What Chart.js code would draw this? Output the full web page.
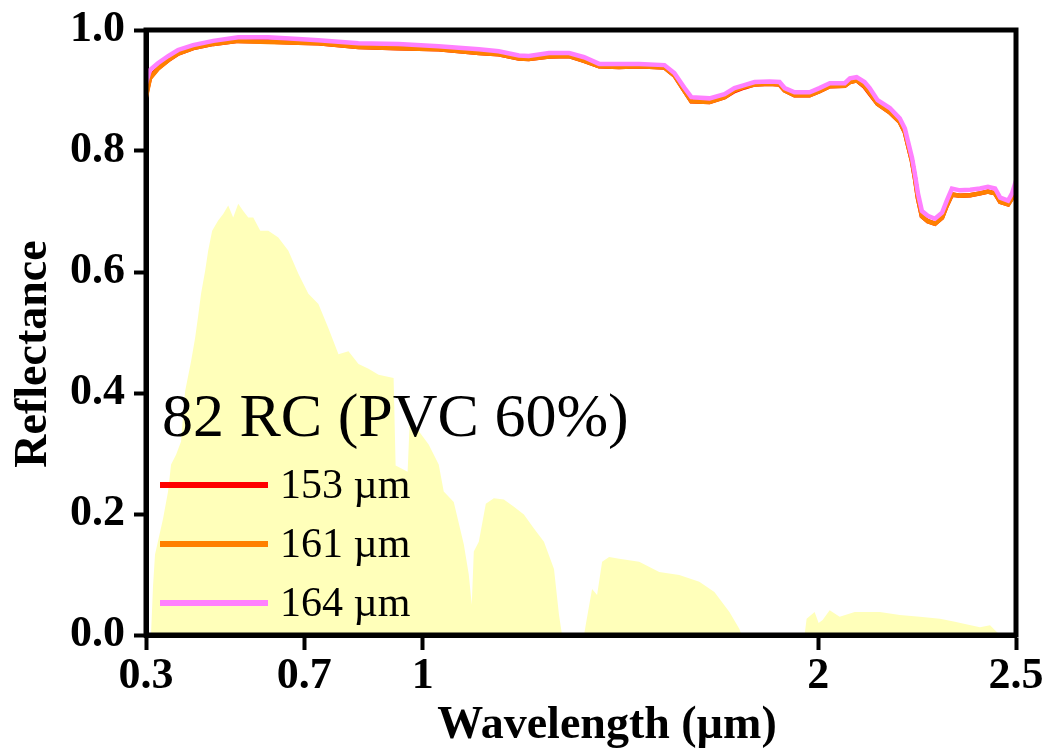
<!DOCTYPE html>
<html>
<head>
<meta charset="utf-8">
<script src="https://cdn.jsdelivr.net/npm/chart.js@4/dist/chart.umd.min.js"></script>
<style>
  html, body { margin: 0; padding: 0; background: #fff; }
  #wrap { width: 1046px; height: 756px; position: relative; }
</style>
</head>
<body>
<div id="wrap"><canvas id="chart"></canvas></div>
<script>
// ── Data ─────────────────────────────────────────────────────────────────────

const panelTitle  = '82 RC (PVC 60%)';
const xTitle      = 'Wavelength (µm)';
const yTitle      = 'Reflectance';
const xTicks      = [0.3, 0.7, 1, 2, 2.5];
const xTickLabels = ['0.3', '0.7', '1', '2', '2.5'];

// wavelength (µm) for the reflectance curves
const wl = [
  0.300, 0.310, 0.330, 0.356, 0.381, 0.419, 0.470, 0.533, 0.609, 0.685,
  0.736, 0.837, 0.939, 1.040, 1.142, 1.192, 1.243, 1.268, 1.319, 1.370,
  1.408, 1.446, 1.496, 1.547, 1.611, 1.636, 1.661, 1.679, 1.725, 1.763,
  1.788, 1.813, 1.839, 1.877, 1.902, 1.915, 1.940, 1.978, 2.003, 2.029,
  2.067, 2.080, 2.097, 2.117, 2.130, 2.150, 2.181, 2.206, 2.219, 2.226,
  2.237, 2.244, 2.252, 2.262, 2.277, 2.295, 2.313, 2.325, 2.338, 2.358,
  2.384, 2.409, 2.429, 2.447, 2.460, 2.480, 2.490, 2.500
];

const r153 = [
  0.892, 0.921, 0.937, 0.950, 0.961, 0.970, 0.977, 0.982, 0.981, 0.979,
  0.978, 0.972, 0.970, 0.968, 0.962, 0.960, 0.953, 0.952, 0.956, 0.957,
  0.949, 0.940, 0.939, 0.940, 0.938, 0.925, 0.900, 0.882, 0.881, 0.889,
  0.899, 0.905, 0.910, 0.911, 0.910, 0.900, 0.892, 0.892, 0.899, 0.907,
  0.908, 0.914, 0.917, 0.906, 0.895, 0.878, 0.864, 0.848, 0.831, 0.812,
  0.783, 0.757, 0.722, 0.692, 0.684, 0.680, 0.690, 0.710, 0.728, 0.726,
  0.727, 0.730, 0.733, 0.730, 0.716, 0.712, 0.722, 0.740
];

const r161 = [
  0.889, 0.920, 0.936, 0.950, 0.961, 0.970, 0.977, 0.982, 0.980, 0.979,
  0.978, 0.972, 0.970, 0.968, 0.962, 0.960, 0.953, 0.952, 0.956, 0.957,
  0.949, 0.940, 0.939, 0.940, 0.938, 0.925, 0.900, 0.882, 0.881, 0.889,
  0.900, 0.906, 0.910, 0.911, 0.910, 0.900, 0.892, 0.892, 0.899, 0.907,
  0.908, 0.914, 0.917, 0.907, 0.896, 0.878, 0.864, 0.848, 0.831, 0.812,
  0.783, 0.757, 0.722, 0.692, 0.684, 0.680, 0.690, 0.710, 0.728, 0.726,
  0.727, 0.730, 0.733, 0.730, 0.716, 0.712, 0.722, 0.740
];

const r164 = [
  0.912, 0.934, 0.945, 0.957, 0.967, 0.975, 0.982, 0.988, 0.988, 0.985,
  0.983, 0.978, 0.977, 0.973, 0.968, 0.965, 0.958, 0.957, 0.962, 0.962,
  0.955, 0.944, 0.944, 0.944, 0.942, 0.929, 0.905, 0.889, 0.887, 0.894,
  0.904, 0.909, 0.914, 0.915, 0.914, 0.904, 0.897, 0.897, 0.904, 0.912,
  0.912, 0.920, 0.922, 0.914, 0.904, 0.884, 0.871, 0.854, 0.837, 0.818,
  0.789, 0.763, 0.730, 0.701, 0.693, 0.688, 0.698, 0.718, 0.738, 0.735,
  0.736, 0.738, 0.741, 0.738, 0.723, 0.718, 0.730, 0.751
];

// solar spectrum backdrop (scaled), wavelength + height
const solarWl = [
  0.3127, 0.3177, 0.3228, 0.3431, 0.3558, 0.3634, 0.3760, 0.3887, 0.3989, 0.4141,
  0.4242, 0.4318, 0.4394, 0.4496, 0.4572, 0.4673, 0.4825, 0.4952, 0.5079, 0.5205,
  0.5332, 0.5459, 0.5586, 0.5712, 0.5890, 0.6093, 0.6346, 0.6600, 0.6853, 0.7106,
  0.7360, 0.7613, 0.7867, 0.8120, 0.8374, 0.8627, 0.8881, 0.9261, 0.9312, 0.9616,
  0.9667, 0.9895, 1.0148, 1.0402, 1.0529, 1.0782, 1.1036, 1.1162, 1.1238, 1.1289,
  1.1416, 1.1593, 1.1796, 1.2049, 1.2303, 1.2556, 1.2810, 1.3063, 1.3317, 1.3444,
  1.3520, 1.4077, 1.4128, 1.4280, 1.4407, 1.4534, 1.4711, 1.4965, 1.5471, 1.5978,
  1.6485, 1.6992, 1.7373, 1.7753, 1.8006, 1.8057, 1.9654, 1.9705, 1.9908, 2.0009,
  2.0110, 2.0288, 2.0541, 2.0922, 2.1555, 2.2062, 2.2569, 2.3076, 2.3456, 2.3710,
  2.4090, 2.4343, 2.4470, 2.4597
];
const solar = [
  0.000, 0.080, 0.133, 0.192, 0.237, 0.282, 0.298, 0.320, 0.403, 0.453,
  0.491, 0.527, 0.565, 0.602, 0.635, 0.668, 0.685, 0.696, 0.710, 0.690,
  0.713, 0.701, 0.690, 0.690, 0.668, 0.668, 0.657, 0.635, 0.597, 0.564,
  0.547, 0.507, 0.464, 0.469, 0.448, 0.440, 0.430, 0.425, 0.280, 0.270,
  0.350, 0.337, 0.315, 0.282, 0.237, 0.220, 0.150, 0.100, 0.050, 0.138,
  0.154, 0.217, 0.226, 0.224, 0.212, 0.199, 0.176, 0.154, 0.109, 0.033,
  0.000, 0.000, 0.020, 0.076, 0.066, 0.121, 0.129, 0.126, 0.121, 0.104,
  0.099, 0.088, 0.071, 0.038, 0.010, 0.000, 0.000, 0.027, 0.038, 0.020,
  0.025, 0.041, 0.030, 0.038, 0.038, 0.033, 0.030, 0.027, 0.022, 0.018,
  0.013, 0.016, 0.008, 0.000
];

// ── Styling ──────────────────────────────────────────────────────────────────

const SERIF = "'Times New Roman', 'Liberation Serif', serif";
const pts = (xs, ys) => xs.map((x, i) => ({ x, y: ys[i] }));

const lineDs = (label, data, color, order) => ({
  label, data: pts(wl, data),
  borderColor: color, backgroundColor: color,
  borderWidth: 4.5, pointRadius: 0, tension: 0, fill: false, order,
});

// frame, axis titles and in-plot legend
const decor = {
  id: 'decor',
  afterDatasetsDraw(chart) {
    const { ctx, chartArea: a } = chart;
    ctx.save();
    ctx.strokeStyle = '#000';
    ctx.lineWidth = 5;
    ctx.strokeRect(a.left, a.top, a.right - a.left, a.bottom - a.top);

    ctx.fillStyle = '#000';
    ctx.textAlign = 'center';
    ctx.textBaseline = 'middle';
    ctx.font = `bold 46px ${SERIF}`;
    ctx.fillText(xTitle, 607, 726);
    ctx.save();
    ctx.translate(34, 354);
    ctx.rotate(-Math.PI / 2);
    ctx.fillText(yTitle, 0, 0);
    ctx.restore();

    ctx.textAlign = 'left';
    ctx.font = `62px ${SERIF}`;
    ctx.textBaseline = 'alphabetic';
    ctx.fillText(panelTitle, 162, 436);

    ctx.font = `42px ${SERIF}`;
    ctx.textBaseline = 'middle';
    const rows = chart.data.datasets.filter(d => d.label);
    rows.forEach((d, i) => {
      const y = 485 + i * 59;
      ctx.strokeStyle = d.borderColor;
      ctx.lineWidth = 6;
      ctx.beginPath();
      ctx.moveTo(160, y);
      ctx.lineTo(268, y);
      ctx.stroke();
      ctx.fillText(d.label, 280, y + 2);
    });
    ctx.restore();
  }
};

// ── Chart ────────────────────────────────────────────────────────────────────

new Chart(document.getElementById('chart'), {
  type: 'line',
  data: {
    datasets: [
      {
        label: '', data: pts(solarWl, solar),
        borderWidth: 0, borderColor: 'rgba(0,0,0,0)',
        backgroundColor: 'rgb(255,255,186)',
        pointRadius: 0, tension: 0, fill: 'origin', order: 10,
      },
      lineDs('153 µm', r153, '#ff0000', 3),
      lineDs('161 µm', r161, '#ff8000', 2),
      lineDs('164 µm', r164, '#ff80ff', 1),
    ],
  },
  options: {
    animation: false,
    responsive: true,
    maintainAspectRatio: false,
    layout: { padding: { top: 30, right: 30, left: 0, bottom: 0 } },
    plugins: { legend: { display: false }, tooltip: { enabled: false } },
    scales: {
      x: {
        type: 'linear', min: 0.3, max: 2.5,
        afterBuildTicks: s => { s.ticks = xTicks.map(v => ({ value: v })); },
        afterFit: s => { s.height = 121; s.paddingLeft = 0; s.paddingRight = 0; },
        ticks: {
          autoSkip: false, maxRotation: 0, padding: 0, color: '#000',
          font: { family: SERIF, size: 44, weight: 'bold' },
          callback: (v, i) => xTickLabels[i],
        },
        grid: { drawOnChartArea: false, tickLength: 15, tickWidth: 4, tickColor: '#000' },
        border: { display: true, width: 5, color: '#000' },
      },
      y: {
        min: 0, max: 1,
        afterFit: s => { s.width = 146; s.paddingTop = 0; s.paddingBottom = 0; },
        ticks: {
          stepSize: 0.2, padding: 9, color: '#000',
          font: { family: SERIF, size: 44, weight: 'bold' },
          callback: v => v.toFixed(1),
        },
        grid: { drawOnChartArea: false, tickLength: 12, tickWidth: 4, tickColor: '#000' },
        border: { display: true, width: 5, color: '#000' },
      },
    },
  },
  plugins: [decor],
});
</script>
</body>
</html>
